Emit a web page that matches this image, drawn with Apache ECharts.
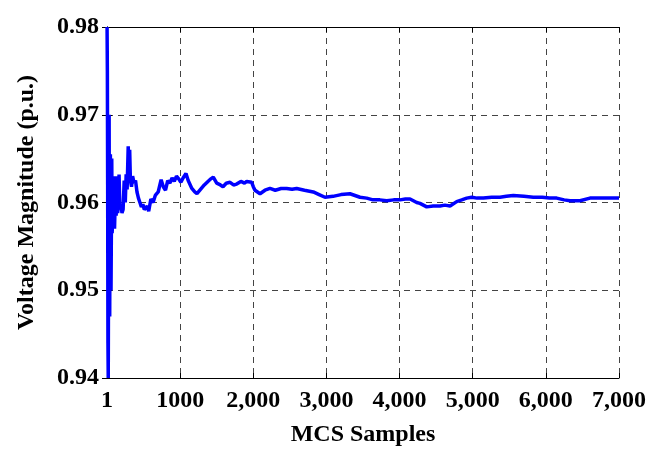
<!DOCTYPE html>
<html>
<head>
<meta charset="utf-8">
<script src="https://cdn.jsdelivr.net/npm/echarts@6/dist/echarts.min.js"></script>
<style>html,body{margin:0;padding:0;background:#fff;}#c{width:651px;height:452px;}</style>
</head>
<body>
<div id="c"></div>
<script>
var samples = [1,5,9,13,17,21,25,29,33,37,41,46,50,55,60,65,70,75,82,88,96,103,110,118,125,135,145,155,165,175,190,205,220,235,250,262,275,290,300,310,320,335,350,370,390,410,430,450,470,490,510,530,550,570,600,630,660,700,740,770,800,830,860,890,920,950,980,1010,1040,1080,1110,1160,1200,1230,1270,1330,1380,1420,1453,1500,1550,1586,1630,1682,1730,1773,1830,1880,1910,1978,2000,2023,2092,2160,2228,2300,2380,2456,2530,2593,2700,2820,2900,2980,3090,3200,3322,3459,3550,3637,3730,3824,3920,4006,4080,4143,4234,4279,4371,4460,4553,4620,4690,4781,4850,4918,4986,5060,5145,5260,5373,5460,5555,5700,5828,5950,6050,6148,6250,6330,6467,6603,6700,6831,7000];
var voltage = [0.980,0.975,0.962,0.944,0.940,0.952,0.958,0.970,0.955,0.947,0.958,0.9655,0.960,0.950,0.957,0.965,0.9565,0.9575,0.963,0.9585,0.9625,0.957,0.9595,0.963,0.9585,0.9615,0.9588,0.9595,0.9632,0.9595,0.9598,0.9588,0.9592,0.9625,0.9600,0.9632,0.9615,0.9664,0.9630,0.9660,0.9625,0.9618,0.9630,0.9622,0.9625,0.9612,0.9605,0.9600,0.9595,0.9598,0.9592,0.9590,0.9596,0.9590,0.9604,0.9600,0.9608,0.9612,0.9626,0.9618,0.9614,0.9625,0.9622,0.9628,0.9624,0.9630,0.9627,0.9623,0.9628,0.9633,0.9625,0.9616,0.9612,0.9610,0.9614,0.9620,0.9624,0.9627,0.9629,0.9622,0.9620,0.9618,0.9622,0.9623,0.9620,0.9621,0.9624,0.9622,0.9624,0.9623,0.9618,0.9614,0.9610,0.9614,0.9616,0.9614,0.9616,0.9616,0.9615,0.9616,0.9614,0.9612,0.9609,0.9606,0.9607,0.9609,0.9610,0.9606,0.9605,0.9603,0.9603,0.9602,0.9603,0.9603,0.9604,0.9604,0.9600,0.9599,0.9595,0.9596,0.9596,0.9597,0.9596,0.9601,0.9603,0.9605,0.9606,0.9605,0.9605,0.9606,0.9606,0.9607,0.9608,0.9607,0.9606,0.9606,0.9605,0.9605,0.9603,0.9602,0.9602,0.9605,0.9605,0.9605,0.9605];
var xTickLabels = ['1','1000','2,000','3,000','4,000','5,000','6,000','7,000'];
var yTickLabels = ['0.94','0.95','0.96','0.97','0.98'];

var data = samples.map(function(s,i){return [s, voltage[i]];});
var font = {fontFamily:'Liberation Serif', fontWeight:'bold', fontSize:24, color:'#000'};
var chart = echarts.init(document.getElementById('c'), null, {renderer:'canvas'});
chart.setOption({
  animation:false,
  grid:{left:107,right:32,top:27,bottom:71,containLabel:false},
  xAxis:[{
    type:'value', min:0, max:7000, interval:1000,
    name:'MCS Samples', nameLocation:'middle', nameGap:45,
    nameTextStyle:font,
    axisLine:{show:true,lineStyle:{color:'#000',width:1}},
    axisTick:{show:true,inside:true,length:5,lineStyle:{color:'#000'}},
    axisLabel:Object.assign({margin:11,formatter:function(v){return xTickLabels[Math.round(v/1000)];}},font),
    splitLine:{show:true,lineStyle:{color:'#444',type:[6,5],width:1}}
  },{
    type:'value', min:0, max:7000, interval:1000, position:'top',
    axisLine:{show:true,lineStyle:{color:'#000',width:1}},
    axisTick:{show:true,inside:true,length:5,lineStyle:{color:'#000'}},
    axisLabel:{show:false}, splitLine:{show:false}
  }],
  yAxis:[{
    type:'value', min:0.94, max:0.98, interval:0.01,
    name:'Voltage Magnitude (p.u.)', nameLocation:'middle', nameGap:68,
    nameTextStyle:font,
    axisLine:{show:true,lineStyle:{color:'#000',width:1}},
    axisTick:{show:true,inside:true,length:5,lineStyle:{color:'#000'}},
    axisLabel:Object.assign({margin:8,formatter:function(v){return yTickLabels[Math.round((v-0.94)/0.01)];}},font),
    splitLine:{show:true,lineStyle:{color:'#444',type:[6,5],width:1}}
  },{
    type:'value', min:0.94, max:0.98, interval:0.01, position:'right',
    axisLine:{show:true,lineStyle:{color:'#000',width:1}},
    axisTick:{show:true,inside:true,length:5,lineStyle:{color:'#000'}},
    axisLabel:{show:false}, splitLine:{show:false}
  }],
  series:[{
    type:'line', data:data, showSymbol:false, symbol:'none',
    lineStyle:{color:'#0000ff',width:3.5}, clip:true
  }]
});
</script>
</body>
</html>
